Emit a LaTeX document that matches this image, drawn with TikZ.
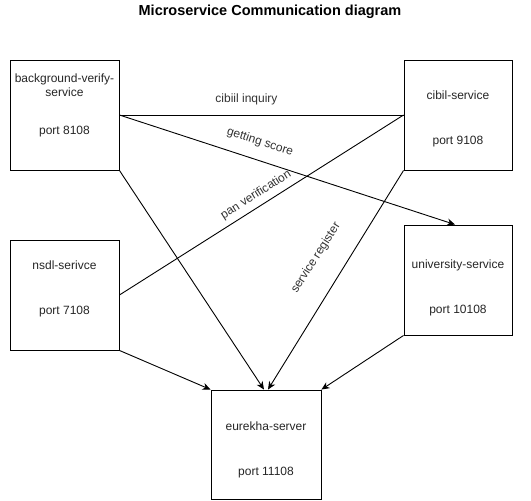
\documentclass[tikz,border=0pt]{standalone}
\usepackage{fontspec}
\setmainfont{Liberation Sans}
\usetikzlibrary{arrows.meta}
\begin{document}
\begin{tikzpicture}[x=1pt,y=-1pt,
  box/.style={draw=black,line width=0.9pt,minimum width=109pt,minimum height=110pt,inner sep=0pt},
  txt/.style={font=\fontsize{12}{14}\selectfont,inner sep=0pt,text height=8.6pt,text depth=2.4pt,anchor=center,text=black!85},
  lbl/.style={font=\fontsize{12}{14}\selectfont,inner sep=0pt,text=black!80},
  conn/.style={line width=0.9pt,draw=black},
  arr/.style={conn,-{Stealth[length=8pt,width=7pt,inset=2.5pt]}}
]
\useasboundingbox (0,0) rectangle (531,501);
\fill[white] (0,0) rectangle (531,501);

\node[font=\bfseries\fontsize{14.5}{16}\selectfont,inner sep=0pt] (title) at (270,12) {Microservice Communication diagram};

\node[box] (bv) at (64.5,115) {};
\node[box,minimum width=108pt] (cibil) at (458,115) {};
\node[box] (nsdl) at (64.5,295) {};
\node[box,minimum width=108pt] (univ) at (458,280) {};
\node[box,minimum width=110pt,minimum height=109pt] (eu) at (266,444.5) {};

\node[txt] (bvA) at (64.5,79) {background-verify-};
\node[txt] (bvB) at (64.5,93) {service};
\node[txt] (bvC) at (64.5,131) {port 8108};
\node[txt] (ciA) at (458,96) {cibil-service};
\node[txt] (ciB) at (458,141) {port 9108};
\node[txt] (nsA) at (64.5,266) {nsdl-serivce};
\node[txt] (nsB) at (64.5,311) {port 7108};
\node[txt] (unA) at (458,265) {university-service};
\node[txt] (unB) at (458,310) {port 10108};
\node[txt] (euA) at (266,427) {eurekha-server};
\node[txt] (euB) at (266,472) {port 11108};

\draw[conn] (bv.east) -- (cibil.west);
\draw[arr] (bv.east) -- ([xshift=-3pt]univ.north);
\draw[conn] (nsdl.east) -- (cibil.west);
\draw[arr] (bv.south east) -- ([xshift=-2pt]eu.north);
\draw[arr] (cibil.south west) -- ([xshift=2pt]eu.north);
\draw[arr] (nsdl.south east) -- (eu.north west);
\draw[arr] (univ.south west) -- (eu.north east);

\node[lbl] (l1) at (246.5,99) {cibiil inquiry};
\node[lbl,rotate=-18.1] (l2) at (260,142) {getting score};
\node[lbl,rotate=32.3] (l3) at (256,195) {pan verification};
\node[lbl,rotate=57.5] (l4) at (316,258) {service register};
\end{tikzpicture}
\end{document}
